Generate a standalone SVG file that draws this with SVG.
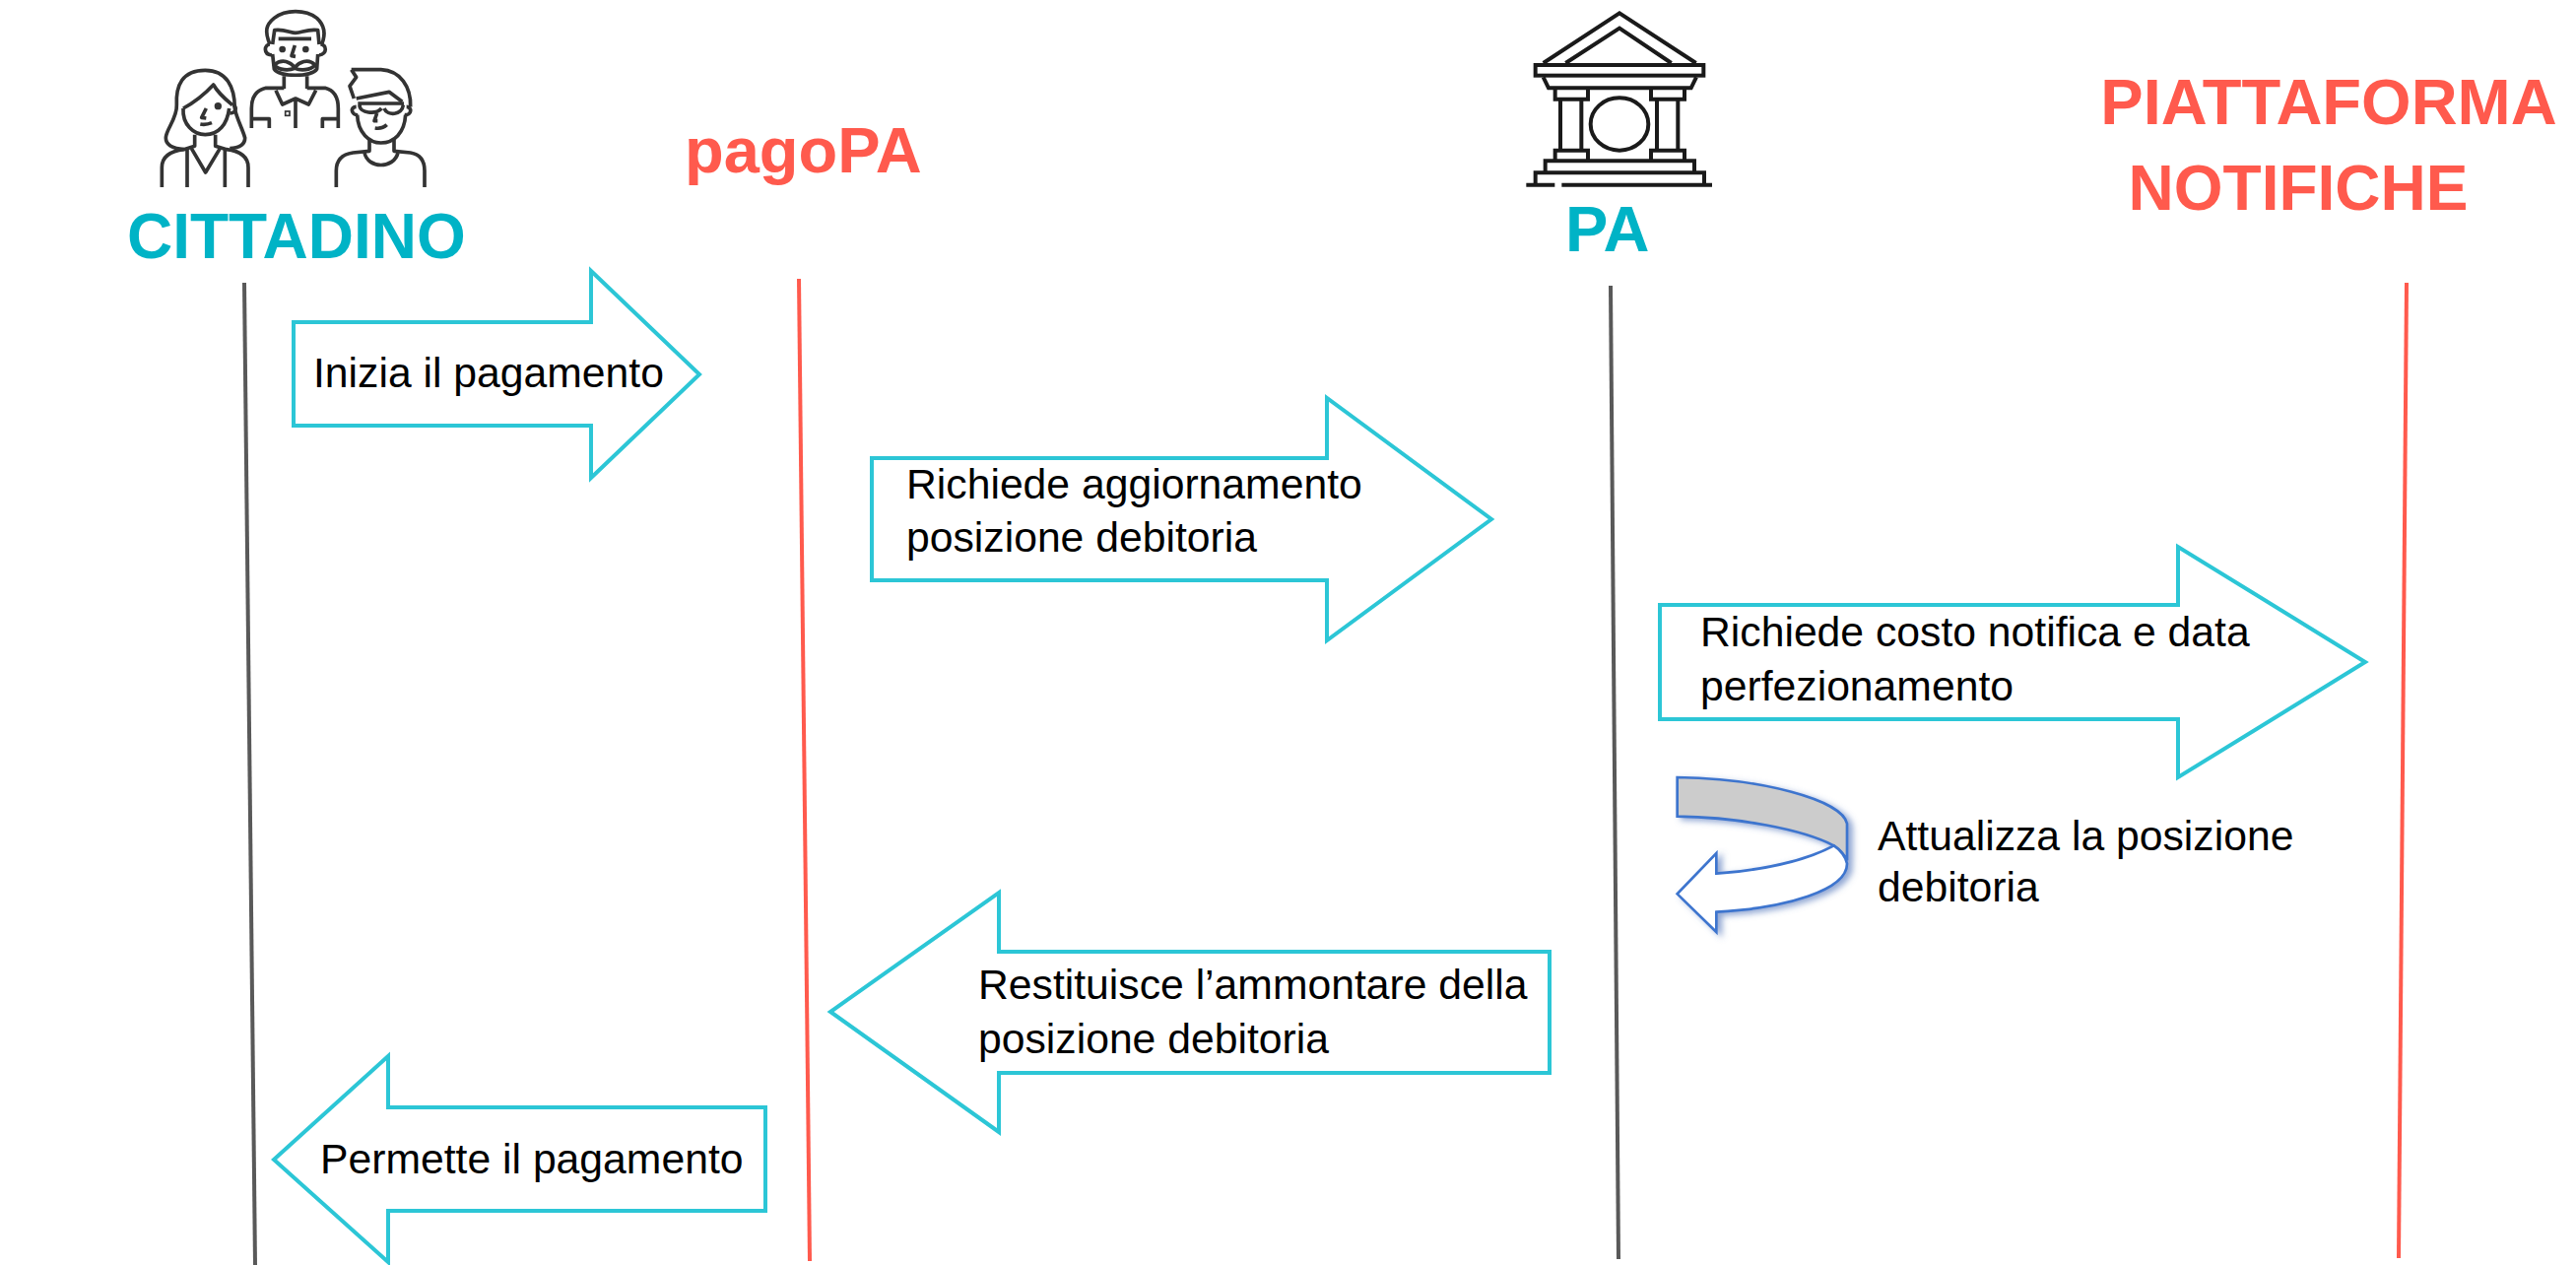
<svg xmlns="http://www.w3.org/2000/svg" width="2615" height="1284" viewBox="0 0 2615 1284">
<style>
text{font-family:"Liberation Sans",Arial,sans-serif}
.t{font-size:42.7px;fill:#000}
.h{font-size:64px;font-weight:700}
.teal{fill:#00B3C6}
.red{fill:#FF5A4D}
.arrow{fill:#fff;stroke:#2CC6D6;stroke-width:4}
.life{fill:none;stroke-width:4}
.ic{fill:none;stroke:#333;stroke-width:11;stroke-linejoin:round;stroke-linecap:butt}
.bk{fill:none;stroke:#1a1a1a;stroke-width:12;stroke-linejoin:miter}
</style>
<defs>
<filter id="shadow" x="-20%" y="-20%" width="150%" height="150%"><feDropShadow dx="14" dy="8" stdDeviation="9" flood-color="#5577BB" flood-opacity=".65"/></filter>
</defs>
<rect width="2615" height="1284" fill="#fff"/>
<g id="connectors">
<line class="life" x1="248" y1="287" x2="259" y2="1284" stroke="#595959"/>
<line class="life" x1="811" y1="283" x2="822" y2="1280" stroke="#FF5A4D"/>
<line class="life" x1="1635" y1="290" x2="1643" y2="1278" stroke="#595959"/>
<line class="life" x1="2443" y1="287" x2="2435" y2="1277" stroke="#FF5A4D"/>
</g>
<g id="node-cittadino">
<g transform="translate(130 0) scale(.33333)">
<path class="ic" d="M432,135C415,95 420,75 445,55C480,28 540,28 575,55C600,78 602,105 590,135M440,135L446,92C475,88 495,100 510,100C530,100 545,88 578,92L582,135"/>
<path class="ic" d="M432,135C415,135 410,165 438,168M586,135C605,135 608,165 582,168"/>
<path class="ic" d="M440,165L445,210C460,235 560,235 575,210L578,165"/>
<path class="ic" d="M458,118H558" stroke-width="9"/>
<path class="ic" d="M508,138L498,170L510,172" stroke-width="8"/>
<circle cx="470" cy="150" r="10" fill="#333"/><circle cx="541" cy="150" r="10" fill="#333"/>
<path class="ic" d="M445,198C470,175 495,190 508,205C520,190 548,175 570,198C555,215 525,215 508,208C490,215 460,215 445,198Z" stroke-width="9"/>
<path class="ic" d="M475,232V270M545,232V270"/>
<path class="ic" d="M475,268H420C390,275 376,295 376,330V390M545,268H600C628,275 640,295 640,330V390"/>
<path class="ic" d="M450,275L470,318L510,300L550,318L572,275M510,300V390"/>
<rect x="479" y="339" width="13" height="13" fill="none" stroke="#333" stroke-width="5"/>
<path class="ic" d="M376,362H430V390M640,362H592V390"/>
<path class="ic" d="M148,320C145,260 165,214 235,214C300,214 325,265 325,330C330,360 350,395 356,420C356,440 340,450 310,452M148,320C150,360 115,395 115,420C115,440 135,452 170,455"/>
<path class="ic" d="M168,330C205,310 235,285 260,258C275,285 300,305 318,320"/>
<path class="ic" d="M168,330C165,380 200,410 235,410C275,410 302,380 308,330"/>
<circle cx="274" cy="323" r="11" fill="#333"/>
<path class="ic" d="M238,330L224,358L238,360M220,378C230,380 245,378 255,374" stroke-width="7"/>
<path class="ic" d="M318,320C332,320 332,345 310,345" stroke-width="8"/>
<path class="ic" d="M203,410V445L170,455C130,460 103,475 103,510V570M266,410V445L300,455C340,460 366,475 366,510V570"/>
<path class="ic" d="M180,455V570M295,455V570M193,452L236,525L280,452"/>
<path class="ic" d="M680,212H770C830,215 862,265 860,325M680,212L695,235L675,262L688,300"/>
<path class="ic" d="M695,300L795,280L835,310"/>
<path class="ic" d="M700,315H840M705,320C705,345 755,350 772,330M780,330C790,355 835,350 838,320"/>
<path class="ic" d="M695,325C675,325 680,352 700,350M848,325C865,325 865,352 842,350" stroke-width="9"/>
<path class="ic" d="M698,350C700,405 735,435 770,435C810,435 842,405 845,350"/>
<path class="ic" d="M752,390C765,392 780,388 788,380M758,345L750,368H760" stroke-width="7"/>
<path class="ic" d="M735,425V460L685,465C650,470 634,490 634,520V570M810,425V460L860,465C890,470 903,490 903,520V570"/>
<path class="ic" d="M720,465C730,515 810,515 822,465"/>
</g>
<text class="h teal" x="129" y="262">CITTADINO</text>
</g>
<g id="node-pagopa">
<text class="h red" x="695" y="175" style="font-size:65px">pagoPA</text>
</g>
<g id="node-pa">
<g transform="translate(1520 0) scale(.33333)">
<path class="bk" d="M140,192L372,40L605,192M208,192L372,86L530,192"/>
<rect class="bk" x="116" y="198" width="512" height="32"/>
<path class="bk" d="M140,235L156,268H590L606,235"/>
<path class="bk" d="M176,268V302H276V268M468,268V302H570V268"/>
<path class="bk" d="M192,302V458M256,302V458M486,302V458M550,302V458"/>
<path class="bk" d="M176,490V458H276V490M468,490V458H570V490"/>
<ellipse class="bk" cx="372" cy="378" rx="88" ry="80" stroke-width="11"/>
<path class="bk" d="M146,526V490H600V526"/>
<path class="bk" d="M116,562V526H630V562"/>
<path d="M88,563H175M196,563H654" stroke="#1a1a1a" stroke-width="12" fill="none"/>
</g>
<text class="h teal" x="1589" y="255" style="font-size:65px">PA</text>
</g>
<g id="node-piattaforma">
<text class="h red" text-anchor="middle" x="2364" y="126" style="font-size:65px">PIATTAFORMA</text>
<text class="h red" text-anchor="middle" x="2333" y="213">NOTIFICHE</text>
</g>
<g id="arrow-inizia">
<path class="arrow" d="M298,327H600V275L710,380L600,485V432H298Z"/>
<text class="t" x="318" y="393">Inizia il pagamento</text>
</g>
<g id="arrow-richiede-aggiornamento">
<path class="arrow" d="M885,465H1347V404L1514,527L1347,650V589H885Z"/>
<text class="t" x="920" y="506">Richiede aggiornamento</text>
<text class="t" x="920" y="560">posizione debitoria</text>
</g>
<g id="arrow-richiede-costo">
<path class="arrow" d="M1685,614H2211V555L2401,672L2211,789V730H1685Z"/>
<text class="t" x="1726" y="656">Richiede costo notifica e data</text>
<text class="t" x="1726" y="711">perfezionamento</text>
</g>
<g id="arrow-attualizza">
<g transform="translate(1680 770) scale(.33333)" filter="url(#shadow)">
<path d="M68,57C320,60 570,125 585,198V310C575,288 560,275 545,265C450,215 250,178 68,176Z" fill="#CCCCCC" stroke="#3E74CE" stroke-width="8" stroke-linejoin="miter"/>
<path d="M545,265C460,310 330,340 187,350V288L68,412L187,528V467C400,455 585,400 585,320C582,300 565,278 545,265Z" fill="#fff" stroke="#3E74CE" stroke-width="8" stroke-linejoin="miter"/>
</g>
<text class="t" x="1906" y="863">Attualizza la posizione</text>
<text class="t" x="1906" y="915">debitoria</text>
</g>
<g id="arrow-restituisce">
<path class="arrow" d="M1573,966H1014V906L843,1027L1014,1149V1089H1573Z"/>
<text class="t" x="993" y="1014">Restituisce l’ammontare della</text>
<text class="t" x="993" y="1069">posizione debitoria</text>
</g>
<g id="arrow-permette">
<path class="arrow" d="M777,1124H394V1072L278,1177L394,1281V1229H777Z"/>
<text class="t" x="325" y="1191">Permette il pagamento</text>
</g>
</svg>
